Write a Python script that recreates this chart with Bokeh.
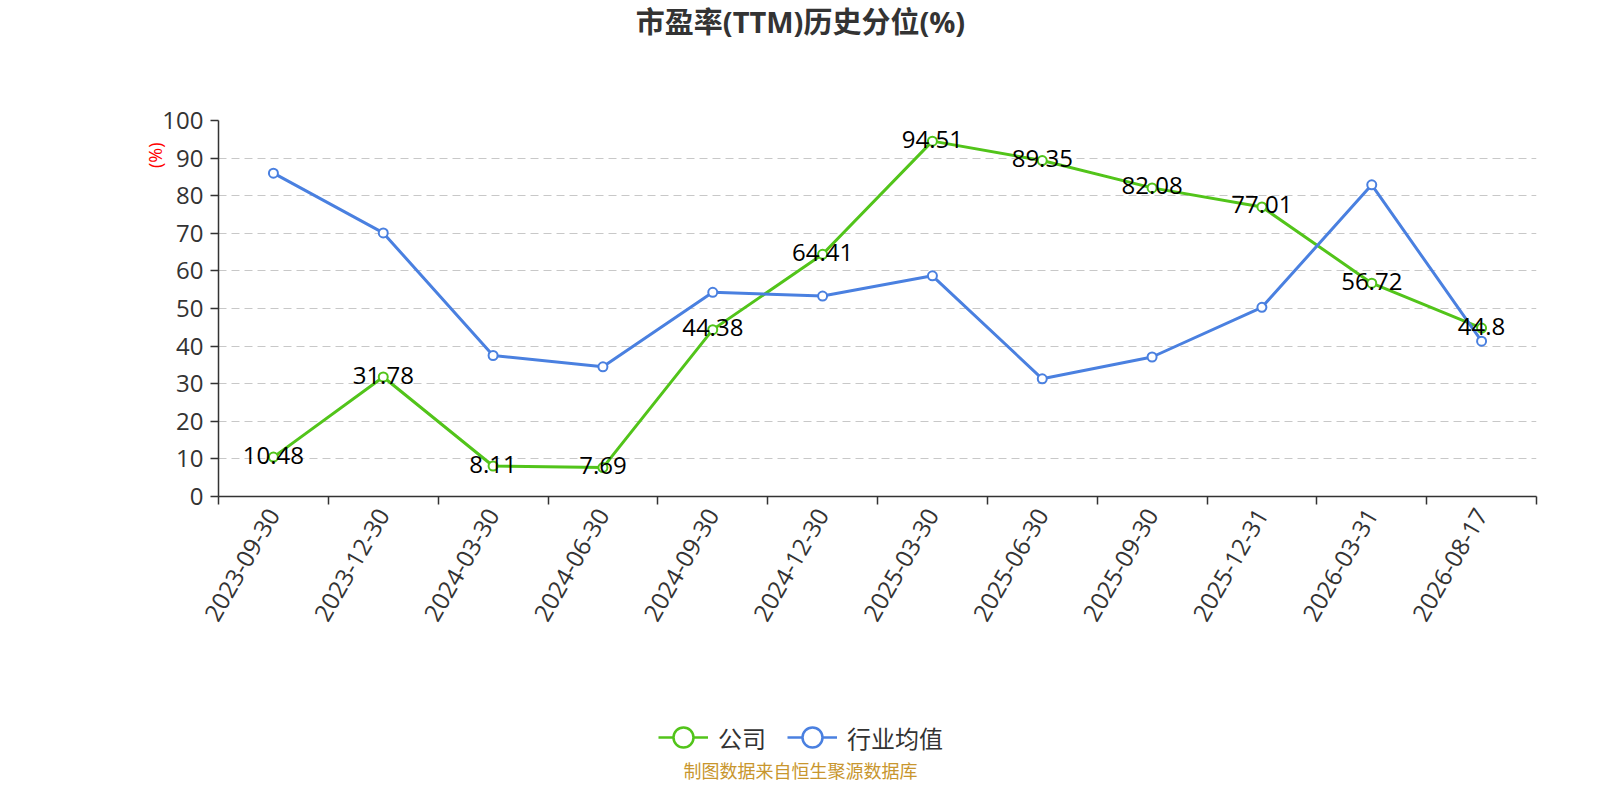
import math
from bokeh.plotting import figure
from bokeh.layouts import column
from bokeh.models import (ColumnDataSource, Range1d, FixedTicker, Label, Legend, LegendItem, Title)
from bokeh.core.properties import value
from bokeh.embed import file_html
from bokeh.resources import INLINE

dates = ["2023-09-30", "2023-12-30", "2024-03-30", "2024-06-30", "2024-09-30", "2024-12-30",
         "2025-03-30", "2025-06-30", "2025-09-30", "2025-12-31", "2026-03-31", "2026-08-17"]
company = [10.48, 31.78, 8.11, 7.69, 44.38, 64.41, 94.51, 89.35, 82.08, 77.01, 56.72, 44.8]
industry = [86.0, 70.1, 37.5, 34.5, 54.3, 53.3, 58.7, 31.3, 37.1, 50.3, 82.9, 41.3]
y_ticks = [0, 10, 20, 30, 40, 50, 60, 70, 80, 90, 100]

CJK = "Noto Sans CJK SC"
LAT = "Open Sans"
MIX = "Open Sans, Noto Sans CJK SC"
GREEN = "#52C41A"
BLUE = "#4A80E0"

W = 1584
L, R = 218, 48
TOP_H = 100
MAIN_H = 560
BOT_H = 784 - TOP_H - MAIN_H
NAN = float("nan")


def blank(h, y0):
    # x data units equal canvas pixels (frame spans L .. W-R like the main chart)
    f = figure(width=W, height=h, output_backend="svg", toolbar_location=None,
               x_range=Range1d(L, W - R), y_range=Range1d(y0 + h, y0),
               x_axis_location=None, y_axis_location=None,
               min_border_left=L, min_border_right=R,
               min_border_top=0, min_border_bottom=0)
    f.outline_line_color = None
    f.xgrid.grid_line_color = None
    f.ygrid.grid_line_color = None
    return f


# ---------- top: title ----------
p_top = blank(TOP_H, 0)
p_top.add_layout(Label(x=800, y=21, text="市盈率(TTM)历史分位(%)", text_align="center",
                       text_baseline="middle", text_font=MIX, text_font_size="29px",
                       text_font_style="bold", text_color="#333333"))

# ---------- main chart ----------
idx = list(range(len(dates)))
src = ColumnDataSource(dict(x=idx, company=company, industry=industry,
                            clabel=[str(v) for v in company]))

p = figure(width=W, height=MAIN_H, output_backend="svg", toolbar_location=None,
           x_range=Range1d(-0.5, len(dates) - 0.5), y_range=Range1d(0, 100),
           min_border_left=L, min_border_right=R, min_border_top=20, min_border_bottom=164)
p.outline_line_color = None

xa = p.xaxis[0]
xa.ticker = FixedTicker(ticks=idx, minor_ticks=[i - 0.5 for i in range(len(dates) + 1)])
xa.major_label_overrides = {i: d for i, d in enumerate(dates)}
xa.major_label_orientation = math.pi / 3
xa.major_label_text_font = LAT
xa.major_label_text_font_size = "24px"
xa.major_label_text_color = "#333333"
xa.major_label_standoff = 6
xa.major_tick_line_color = None
xa.minor_tick_in = 0
xa.minor_tick_out = 8
xa.minor_tick_line_color = "#333333"
xa.minor_tick_line_width = 1.5
xa.axis_line_color = "#333333"
xa.axis_line_width = 1.5

ya = p.yaxis[0]
ya.ticker = FixedTicker(ticks=y_ticks)
ya.major_label_text_font = LAT
ya.major_label_text_font_size = "24px"
ya.major_label_text_color = "#333333"
ya.major_tick_in = 0
ya.major_tick_out = 8
ya.major_tick_line_color = "#333333"
ya.major_tick_line_width = 1.5
ya.minor_tick_line_color = None
ya.axis_line_color = "#333333"
ya.axis_line_width = 1.5
ya.major_label_standoff = 7

p.xgrid.grid_line_color = None
p.ygrid.ticker = FixedTicker(ticks=y_ticks)
p.ygrid.grid_line_color = "#c8c8c8"
p.ygrid.grid_line_dash = "8 5"
p.ygrid.grid_line_width = 1.2

p.line("x", "company", source=src, line_color=GREEN, line_width=3)
p.scatter("x", "company", source=src, size=9, fill_color="white",
          line_color=GREEN, line_width=2)
p.line("x", "industry", source=src, line_color=BLUE, line_width=3)
p.scatter("x", "industry", source=src, size=9, fill_color="white",
          line_color=BLUE, line_width=2)

p.text("x", "company", text="clabel", source=src, text_align="center",
       text_baseline="middle", text_font=value(LAT), text_font_size="24px",
       text_color="black", y_offset=-2)

p.add_layout(Title(text="(%)", align="right", offset=22, standoff=-14, text_color="red",
                   text_font=LAT, text_font_size="18px", text_font_style="normal"), "left")

# ---------- bottom: legend + footer ----------
p_bot = blank(BOT_H, TOP_H + MAIN_H)
# legend proxies (not drawn: NaN position)
gl = p_bot.line(x=[NAN], y=[NAN], line_color=GREEN, line_width=2.5)
gs = p_bot.scatter(x=[NAN], y=[NAN], size=9, fill_color="white", line_color=GREEN, line_width=2.5)
bl = p_bot.line(x=[NAN], y=[NAN], line_color=BLUE, line_width=2.5)
bs = p_bot.scatter(x=[NAN], y=[NAN], size=9, fill_color="white", line_color=BLUE, line_width=2.5)
legend = Legend(items=[LegendItem(label="公司", renderers=[gl, gs]),
                       LegendItem(label="行业均值", renderers=[bl, bs])],
                orientation="horizontal",
                location=(658 - L, BOT_H - (737 - TOP_H - MAIN_H) - 25),
                glyph_width=50, glyph_height=50, label_standoff=10, spacing=21,
                padding=0, margin=0, border_line_color=None, background_fill_alpha=0,
                label_text_font=CJK, label_text_font_size="24px",
                label_text_color="#333333")
p_bot.add_layout(legend, "center")
p_bot.add_layout(Label(x=800, y=769, text="制图数据来自恒生聚源数据库", text_align="center",
                       text_baseline="middle", text_font=CJK, text_font_size="18px",
                       text_color="#C8962E"))

layout = column(p_top, p, p_bot, spacing=0)
open("out.html", "w").write(file_html(layout, INLINE))
